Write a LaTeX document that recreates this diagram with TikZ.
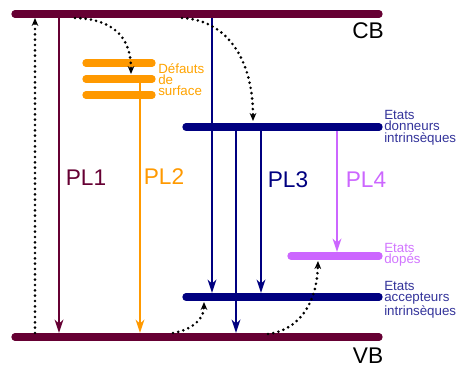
\documentclass[tikz,border=0pt]{standalone}
\usepackage{fontspec}
\setmainfont{Liberation Sans}
\usetikzlibrary{arrows.meta, positioning}
\definecolor{bandred}{HTML}{660033}
\definecolor{defaut}{HTML}{FF9900}
\definecolor{intrin}{HTML}{000080}
\definecolor{dope}{HTML}{CC66FF}

\begin{document}
\begin{tikzpicture}[x=0.75pt, y=-0.75pt, >={Stealth[length=10pt, width=6.5pt, inset=3pt]},
	level/.style={line width=5.5pt, line cap=round},
	trans/.style={->, line width=1.9pt},
	relax/.style={-{Stealth[length=6pt, width=5pt]}, line width=2.2pt, line cap=round, dash pattern=on 0pt off 4pt},
	plabel/.style={font=\fontsize{17}{20}\selectfont, inner sep=0pt},
	etats/.style={font=\fontsize{10}{8.5}\selectfont, align=left, anchor=north west, inner sep=0pt}]

	\useasboundingbox (0,0) rectangle (459,367);

	% edges of the levels
	\coordinate (cb) at (0,18);
	\coordinate (vb) at (0,333);
	\coordinate (donB) at (0,131);
	\coordinate (accT) at (0,293);
	\coordinate (dopT) at (0,252);
	\coordinate (defB) at (0,79);

	% levels
	\draw [level, bandred] (15,14) -- (379,14);
	\draw [level, bandred] (15,337) -- (379,337);
	\draw [level, defaut] (86,63) -- (152,63);
	\draw [level, defaut] (86,79) -- (152,79);
	\draw [level, defaut] (86,95) -- (152,95);
	\draw [level, intrin] (186,127) -- (379,127);
	\draw [level, intrin] (186,297) -- (379,297);
	\draw [level, dope] (291,256) -- (379,256);

	\node [plabel] (CB) at (368,31) {CB};
	\node [plabel] (VB) at (368,356) {VB};

	% transitions
	\coordinate (x0) at (35,0);
	\coordinate (x1) at (59,0);
	\coordinate (x2) at (140,0);
	\coordinate (x3a) at (212,0);
	\coordinate (x3b) at (236,0);
	\coordinate (x3c) at (261,0);
	\coordinate (x4) at (337,0);

	\draw [relax] (x0 |- vb) -- (x0 |- cb);
	\draw [trans, bandred] (x1 |- cb) -- (x1 |- vb);
	\draw [trans, defaut] (x2 |- defB) -- (x2 |- vb);
	\draw [trans, intrin] (x3a |- cb) -- (x3a |- accT);
	\draw [trans, intrin] (x3b |- donB) -- (x3b |- vb);
	\draw [trans, intrin] (x3c |- donB) -- (x3c |- accT);
	\draw [trans, dope] (x4 |- donB) -- (x4 |- dopT);

	\node [plabel, bandred] (PL1) at (86,178) {PL1};
	\node [plabel, defaut] (PL2) at (164,177) {PL2};
	\node [plabel, intrin] (PL3) at (288,180) {PL3};
	\node [plabel, dope] (PL4) at (366,180) {PL4};

	% non radiative relaxations
	\draw [relax] (75,18) .. controls (112,19) and (131,36) .. (131,74);
	\draw [relax] (182,18) .. controls (226,20) and (253,58) .. (253,121);
	\draw [relax] (173,333) .. controls (191,330) and (204,320) .. (204,302);
	\draw [relax] (268,334) .. controls (300,330) and (317,302) .. (318,261);

	\node [etats, defaut!90!yellow] (def) at (158,63) {Défauts\\de\\surface};
	\node [etats, intrin!80!white] (don) at (384,110) {Etats\\donneurs\\intrinsèques};
	\node [etats, dope!90!white] (dop) at (384,243) {Etats\\dopés};
	\node [etats, intrin!80!white] (acc) at (384,281) {Etats\\accepteurs\\intrinsèques};

\end{tikzpicture}
\end{document}
